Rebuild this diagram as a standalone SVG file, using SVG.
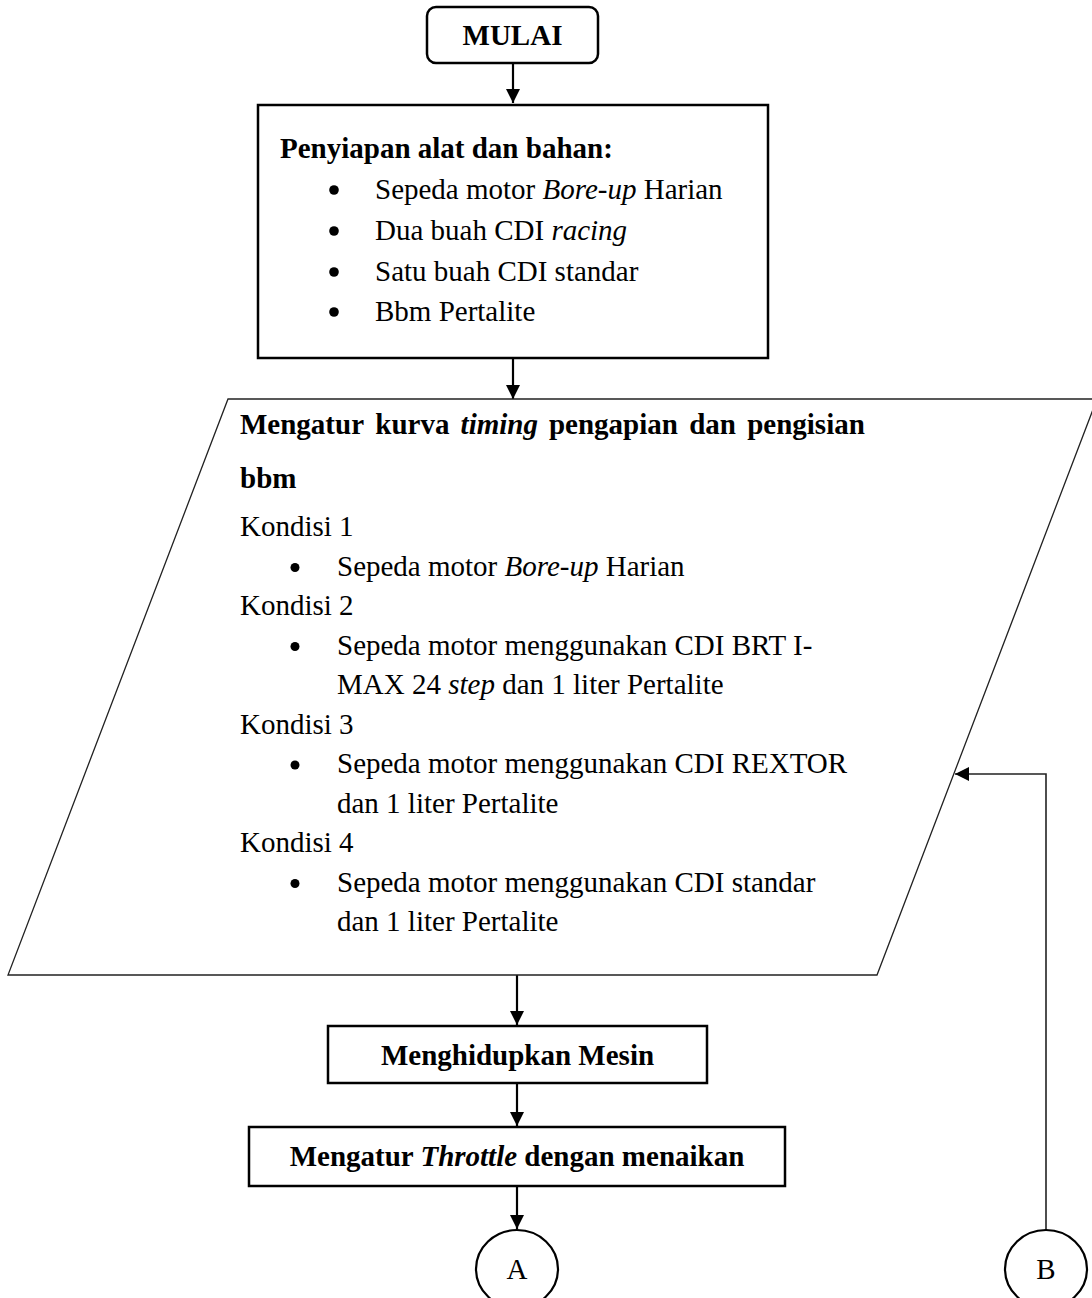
<svg xmlns="http://www.w3.org/2000/svg" width="1092" height="1298" viewBox="0 0 1092 1298">
<style>
  text { font-family: "Liberation Serif", "Times New Roman", serif; font-size: 29px; fill: #000; }
  .b { font-weight: bold; }
  .i { font-style: italic; }
  .c { text-anchor: middle; }
  .box { fill: #fff; stroke: #000; stroke-width: 2.5; }
  .para { fill: #fff; stroke: #222; stroke-width: 1.3; }
  .circ { fill: #fff; stroke: #000; stroke-width: 2.2; }
  .conn { fill: none; stroke: #000; stroke-width: 2.2; }
  .thin { fill: none; stroke: #222; stroke-width: 1.6; }
  .dot { fill: #000; }
</style>
<defs>
  <marker id="arr" viewBox="0 0 14 14" refX="14" refY="7" markerWidth="14" markerHeight="14" markerUnits="userSpaceOnUse" orient="auto">
    <path d="M0,0 L14,7 L0,14 Z" fill="#000"/>
  </marker>
</defs>

<g id="connectors">
  <line class="conn" x1="513" y1="63" x2="513" y2="103" marker-end="url(#arr)"/>
  <line class="conn" x1="513" y1="359" x2="513" y2="399" marker-end="url(#arr)"/>
  <line class="conn" x1="517" y1="975" x2="517" y2="1025" marker-end="url(#arr)"/>
  <line class="conn" x1="517" y1="1084" x2="517" y2="1126" marker-end="url(#arr)"/>
  <line class="conn" x1="517" y1="1187" x2="517" y2="1229" marker-end="url(#arr)"/>
  <path class="thin" d="M1046,1230 V774 H955" marker-end="url(#arr)"/>
</g>

<g id="mulai">
  <rect class="box" x="427" y="7" width="171" height="56" rx="9" ry="9" stroke-width="2"/>
  <text class="b c" x="512.5" y="45">MULAI</text>
</g>

<g id="persiapan">
  <rect class="box" x="258" y="105" width="510" height="253" stroke-width="3"/>
  <text class="b" x="280" y="158">Penyiapan alat dan bahan:</text>
  <circle class="dot" cx="334" cy="190" r="4.8"/>
  <text x="375" y="199">Sepeda motor <tspan class="i">Bore-up</tspan> Harian</text>
  <circle class="dot" cx="334" cy="231" r="4.8"/>
  <text x="375" y="240">Dua buah CDI <tspan class="i">racing</tspan></text>
  <circle class="dot" cx="334" cy="272" r="4.8"/>
  <text x="375" y="281">Satu buah CDI standar</text>
  <circle class="dot" cx="334" cy="312" r="4.8"/>
  <text x="375" y="321">Bbm Pertalite</text>
</g>

<g id="mengatur-kurva">
  <polygon class="para" points="228,399 1097,399 877,975 8,975"/>
  <text class="b" y="434"><tspan x="240">Mengatur</tspan><tspan x="375.3">kurva</tspan><tspan x="460.6" class="i">timing</tspan><tspan x="548.9">pengapian</tspan><tspan x="689.2">dan</tspan><tspan x="747.2">pengisian</tspan></text>
  <text class="b" x="240" y="488">bbm</text>
  <text x="240" y="536">Kondisi 1</text>
  <circle class="dot" cx="295" cy="567.5" r="4.5"/>
  <text x="337" y="575.5">Sepeda motor <tspan class="i">Bore-up</tspan> Harian</text>
  <text x="240" y="615">Kondisi 2</text>
  <circle class="dot" cx="295" cy="646.5" r="4.5"/>
  <text x="337" y="654.5">Sepeda motor menggunakan CDI BRT I-</text>
  <text x="337" y="694">MAX 24 <tspan class="i">step</tspan> dan 1 liter Pertalite</text>
  <text x="240" y="733.5">Kondisi 3</text>
  <circle class="dot" cx="295" cy="765" r="4.5"/>
  <text x="337" y="773">Sepeda motor menggunakan CDI REXTOR</text>
  <text x="337" y="812.5">dan 1 liter Pertalite</text>
  <text x="240" y="852">Kondisi 4</text>
  <circle class="dot" cx="295" cy="883.5" r="4.5"/>
  <text x="337" y="891.5">Sepeda motor menggunakan CDI standar</text>
  <text x="337" y="931">dan 1 liter Pertalite</text>
</g>

<g id="menghidupkan">
  <rect class="box" x="328" y="1026" width="379" height="57" stroke-width="2.2"/>
  <text class="b c" x="517.5" y="1065">Menghidupkan Mesin</text>
</g>

<g id="throttle">
  <rect class="box" x="249" y="1127" width="536" height="59" stroke-width="2.2"/>
  <text class="b c" x="517" y="1166">Mengatur <tspan class="i">Throttle</tspan> dengan menaikan</text>
</g>

<g id="konektor-a">
  <ellipse class="circ" cx="517" cy="1269" rx="41" ry="39"/>
  <text class="c" x="517" y="1279">A</text>
</g>

<g id="konektor-b">
  <ellipse class="circ" cx="1046" cy="1269" rx="41" ry="39"/>
  <text class="c" x="1046" y="1279">B</text>
</g>
</svg>
